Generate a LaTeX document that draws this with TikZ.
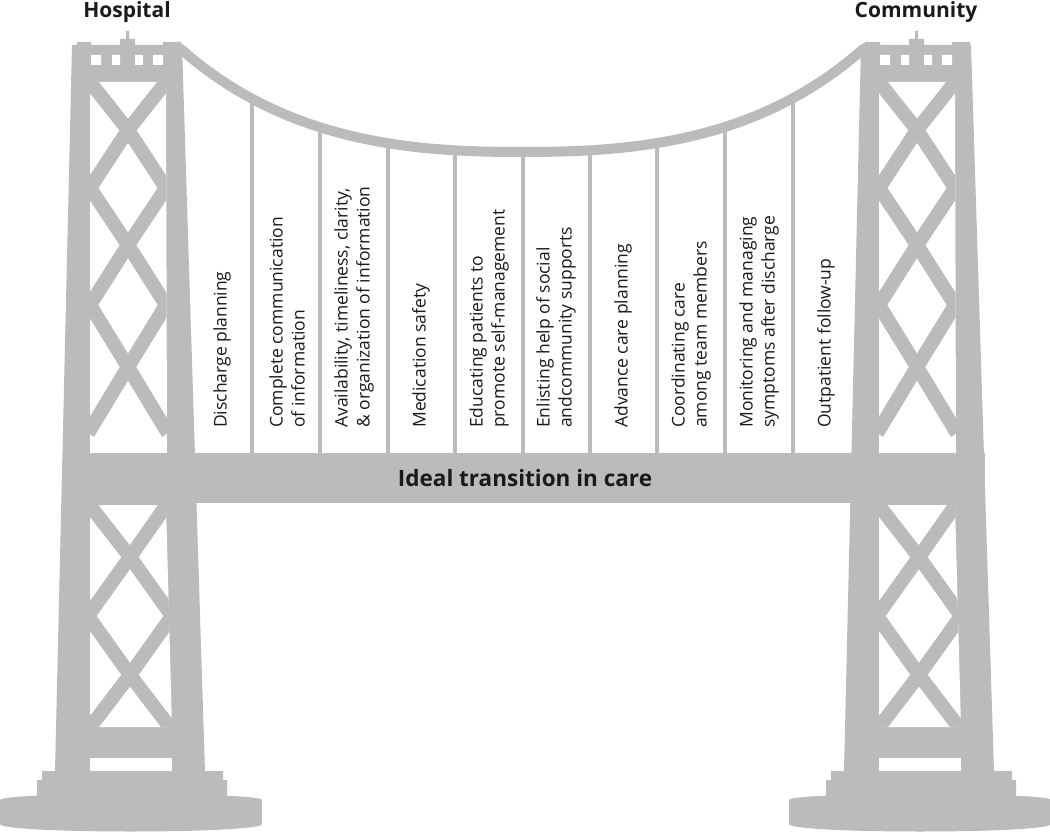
\documentclass[tikz,border=0pt]{standalone}
\usepackage{fontspec}
\setmainfont{Open Sans}
\begin{document}
\begin{tikzpicture}[x=1pt,y=-1pt,
  g/.style={fill=bgray,draw=none},
  w/.style={fill=white,draw=none},
  brace/.style={draw=bgray,line width=14pt,line cap=butt,line join=miter},
  hanger/.style={draw=bgray,line width=3.5pt},
  lab/.style={rotate=90,anchor=west,align=left,font=\fontsize{17.5}{22}\selectfont,text=txt,inner sep=0pt},
  head/.style={font=\bfseries\fontsize{21}{24}\selectfont,text=txt}]
\definecolor{bgray}{HTML}{BBBBBB}
\definecolor{txt}{HTML}{1A1A1A}
\useasboundingbox (0,0) rectangle (1050,834);
\fill[white] (0,0) rectangle (1050,834);
% hangers
\foreach \x/\y in {252/100,320/125,388/142,455/150,523/153,590/150,657/142,725/125,793/100}
  \draw[hanger] (\x,\y) -- (\x,455);
% cable
\draw[draw=bgray,line width=10pt] (175,46) -- (182,50) .. controls (290,145) and (420,152) .. (522,152)
  .. controls (624,152) and (754,145) .. (862,50) -- (869,46);
% towers
\foreach \s in {0,789}{
\begin{scope}[xshift=\s]
  \fill[bgray] (72,45) -- (182,45) -- (205,772) -- (55,772) -- cycle;
  \fill[bgray] (77,42) rectangle (91,46) (163,42) rectangle (181,46) (120,39) rectangle (135,46) (126,31) rectangle (129,40);
  \fill[bgray] (42,771) rectangle (223,790) (37,780) rectangle (227,800);
  \fill[bgray] (0,800) .. controls (0,792) and (262,792) .. (262,800) -- (262,824) .. controls (262,834) and (0,834) .. (0,824) -- cycle;
  \fill[white] (91,55) rectangle (101,65) (112,55) rectangle (120,65) (135,55) rectangle (143,65) (153,55) rectangle (163,65);
  % upper opening
  \begin{scope}
    \clip (90,82) -- (166,82) -- (167,453) -- (90,453) -- cycle;
    \fill[white] (80,70) rectangle (180,460);
    \draw[brace] (90,82) -- (128,130) -- (166,188) -- (128,245) -- (90,305) -- (128,367) -- (166,430) -- (168,433);
    \draw[brace] (166,82) -- (128,130) -- (90,188) -- (128,245) -- (166,305) -- (128,367) -- (90,430) -- (88,433);
  \end{scope}
  % lower opening
  \begin{scope}
    \clip (90,505) -- (166,505) -- (172,727) -- (90,727) -- cycle;
    \fill[white] (80,500) rectangle (180,730);
    \draw[brace] (88,503) -- (130,557) -- (172,616) -- (130,675) -- (88,730);
    \draw[brace] (168,503) -- (130,557) -- (88,616) -- (130,675) -- (172,730);
  \end{scope}
  \fill[white] (90,758) rectangle (172,771);
  \fill[bgray] (107,771) rectangle (158,782);
\end{scope}}
% deck
\fill[bgray] (72,453) rectangle (985,503);
\node[font=\bfseries\fontsize{22.5}{26}\selectfont,text=txt] (deck) at (525,478) {Ideal transition in care};
\node[head] (hosp) at (127,12) {Hospital};
\node[head] (comm) at (916,12) {Community};
\node[lab] (l1) at (222,428) {Discharge planning};
\node[lab] (l2) at (287,428) {Complete communication\\of information};
\node[lab] (l3) at (354,428) {Availability, timeliness, clarity,\\\& organization of information};
\node[lab] (l4) at (421,428) {Medication safety};
\node[lab] (l5) at (489,428) {Educating patients to\\promote self-management};
\node[lab] (l6) at (556,428) {Enlisting help of social\\andcommunity supports};
\node[lab] (l7) at (623,428) {Advance care planning};
\node[lab] (l8) at (691,428) {Coordinating care\\among team members};
\node[lab] (l9) at (759,428) {Monitoring and managing\\symptoms after discharge};
\node[lab] (l10) at (826,428) {Outpatient follow-up};
\end{tikzpicture}
\end{document}
